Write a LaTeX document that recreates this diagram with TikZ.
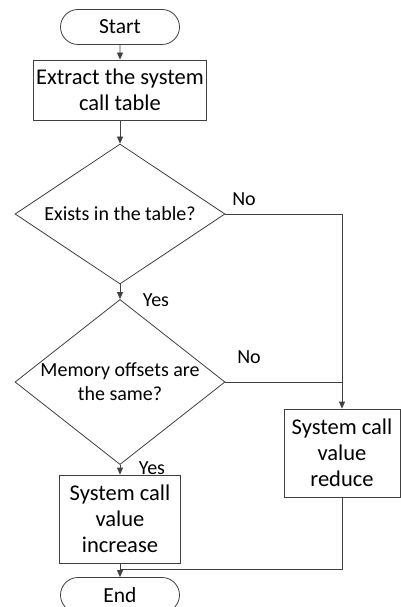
\documentclass[tikz,border=0pt]{standalone}
\usepackage{fontspec}
\setmainfont{Carlito}
\usetikzlibrary{shapes,arrows.meta,positioning,calc}
\definecolor{linegray}{RGB}{64,64,64}

\begin{document}
\begin{tikzpicture}[x=1pt, y=-1pt,
    font=\fontsize{20}{24}\selectfont,
    every path/.style={line width=0.8pt},
    terminal/.style={rounded rectangle, draw=linegray, minimum width=119pt, minimum height=35pt, inner sep=0pt, font=\fontsize{21.5}{26}\selectfont},
    process/.style={rectangle, draw=linegray, align=center, inner sep=2pt, font=\fontsize{22.5}{26}\selectfont},
    decision/.style={diamond, draw=linegray, align=center, minimum width=210pt, minimum height=140pt, inner sep=-8pt},
    flow/.style={-{Triangle[length=7pt,width=6pt]}, draw=linegray},
    plain/.style={draw=linegray}]
\useasboundingbox (0,0) rectangle (400,607);

% Main column
\node[terminal] (start) at (120,27) {Start};
\node[process, minimum width=173pt, minimum height=60pt] (extract) at (120,90) {Extract the system\\call table};
\node[decision] (exists) at (120,214) {Exists in the table?};
\node[decision] (same) at (120,382) {Memory offsets are\\the same?};
\node[process, minimum width=121pt, minimum height=88pt] (increase) at (120,519) {System call\\value\\increase};
\node[terminal] (end) at (120,595) {End};

% Side branch
\node[process, minimum width=116pt, minimum height=88pt] (reduce) at (342,453) {System call\\value\\reduce};

% Connectors
\draw[flow] (start) -- (extract);
\draw[flow] (extract) -- (exists);
\draw[flow] (exists) -- (same);
\draw[flow] (same) -- (increase);
\draw[flow] (increase) -- (end);
\draw[flow] (exists.east) -| (reduce.north);
\draw[plain] (same.east) -- (same.east -| reduce.north);
\coordinate (merge) at (120,569);
\draw[plain] (reduce.south) |- (merge);

% Branch labels
\node (no1) at (244,199) {No};
\node (yes1) at (156,300) {Yes};
\node (no2) at (249,357) {No};
\node (yes2) at (152,468) {Yes};

\end{tikzpicture}
\end{document}
